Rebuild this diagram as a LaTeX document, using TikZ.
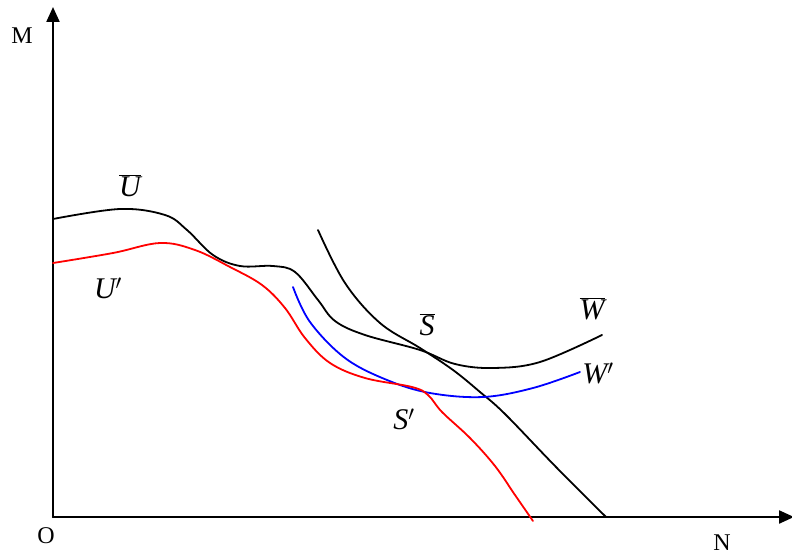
\documentclass[tikz,border=0pt]{standalone}
\usepackage{fontspec}
\setmainfont{Liberation Serif}
\usetikzlibrary{arrows.meta}
\definecolor{CurveRed}{HTML}{FF0000}
\definecolor{CurveBlue}{HTML}{0000FF}

\begin{document}
\begin{tikzpicture}[x=1pt,y=-1pt,line cap=round,line join=round,
  axis/.style={line width=2.2pt,-{Triangle[length=15pt,width=13pt]}},
  curve/.style={line width=1.8pt},
  lbl/.style={font=\fontsize{30}{32}\selectfont\itshape,inner sep=0pt},
  axlbl/.style={font=\fontsize{24}{26}\selectfont,inner sep=0pt}]
  \useasboundingbox (0,0) rectangle (792,556);
  \coordinate (O) at (53,517);
  \coordinate (Mtop) at (53,7);
  \coordinate (Nend) at (794,517);
  \draw[axis] (O) -- (Mtop);
  \draw[axis] (O) -- (Nend);
  \node[axlbl] (mlab) at (22,36) {M};
  \node[axlbl] (olab) at (46,536) {O};
  \node[axlbl] (nlab) at (722,543) {N};
  \draw[curve] plot[smooth,tension=0.6] coordinates {
    (53,219) (120,209) (165,215) (187,230) (213,255) (240,266) (273,266)
    (295,272) (318,300) (335,321) (365,335) (420,350) (455,364) (493,368)
    (540,362) (602,335)};
  \draw[curve] plot[smooth,tension=0.6] coordinates {
    (318,230) (345,283) (380,323) (420,348) (453,370) (480,392) (505,414)
    (556,467) (606,517)};
  \draw[curve,CurveBlue] plot[smooth,tension=0.6] coordinates {
    (293,287) (310,322) (345,358) (387,380) (430,393) (483,397) (533,388)
    (580,372)};
  \draw[curve,CurveRed] plot[smooth,tension=0.6] coordinates {
    (53,263) (113,253) (160,243) (195,250) (230,267) (262,285) (285,308)
    (305,338) (330,363) (365,378) (412,387) (428,395) (442,412) (470,438)
    (495,466) (515,495) (533,521)};
  \node[lbl] (ubar) at (130,186) {$\overline{\textit{U}}$};
  \node[lbl] (uprime) at (108,288) {U$'$};
  \node[lbl] (sbar) at (427,325) {$\overline{\textit{S}}$};
  \node[lbl] (wbar) at (592,309) {$\overline{\textit{W}}$};
  \node[lbl] (wprime) at (598,373) {W$'$};
  \node[lbl] (sprime) at (404,419) {S$'$};
\end{tikzpicture}
\end{document}
